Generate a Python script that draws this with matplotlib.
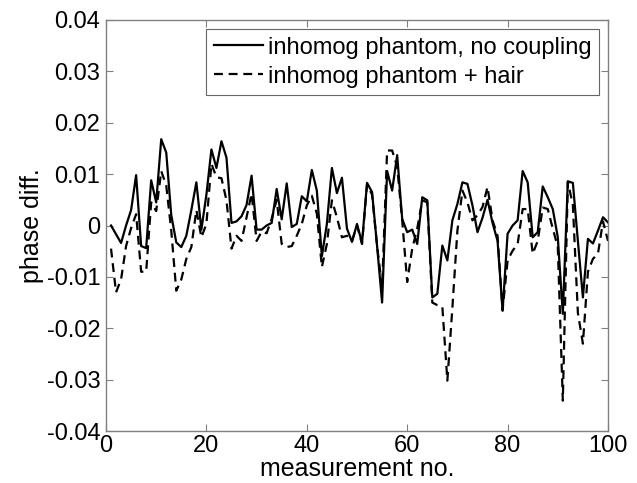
import numpy as np
import matplotlib
matplotlib.use("Agg")
import matplotlib.pyplot as plt
from matplotlib.ticker import FuncFormatter

plt.rcParams["font.family"] = ["Liberation Sans", "DejaVu Sans"]

# measurement index
meas_no = np.arange(1, 101)

# phase difference, inhomogeneous phantom without coupling medium
phase_no_coupling = [
    0.0000, -0.0017, -0.0034, 0.0000, 0.0030, 0.0098, -0.0040, -0.0044, 0.0088, 0.0045,
    0.0168, 0.0142, 0.0020, -0.0033, -0.0042, -0.0020, 0.0030, 0.0084, -0.0008, 0.0060,
    0.0148, 0.0112, 0.0164, 0.0132, 0.0005, 0.0008, 0.0018, 0.0040, 0.0097, -0.0008,
    -0.0008, 0.0000, 0.0005, 0.0071, 0.0012, 0.0082, -0.0003, 0.0003, 0.0057, 0.0047,
    0.0108, 0.0068, -0.0060, 0.0003, 0.0112, 0.0063, 0.0093, -0.0006, -0.0032, 0.0003,
    -0.0034, 0.0083, 0.0065, -0.0040, -0.0150, 0.0106, 0.0068, 0.0137, 0.0013, -0.0013,
    -0.0008, -0.0036, 0.0055, 0.0049, -0.0140, -0.0133, -0.0039, -0.0068, 0.0010, 0.0042,
    0.0084, 0.0081, 0.0039, -0.0013, 0.0015, 0.0050, 0.0005, -0.0030, -0.0166, -0.0016,
    0.0000, 0.0010, 0.0106, 0.0084, -0.0023, -0.0013, 0.0076, 0.0055, 0.0032, -0.0023,
    -0.0172, 0.0086, 0.0083, -0.0030, -0.0140, -0.0026, -0.0035, -0.0010, 0.0016, 0.0006,
]

# phase difference, inhomogeneous phantom with hair
phase_hair = [
    -0.0045, -0.0130, -0.0105, -0.0040, -0.0005, 0.0022, -0.0090, -0.0090, 0.0045, 0.0028,
    0.0106, 0.0078, -0.0010, -0.0127, -0.0105, -0.0065, -0.0042, 0.0030, -0.0023, 0.0003,
    0.0120, 0.0094, 0.0092, 0.0049, -0.0045, -0.0020, -0.0030, 0.0016, 0.0062, -0.0030,
    -0.0012, -0.0015, 0.0013, 0.0050, -0.0036, -0.0042, -0.0040, -0.0020, 0.0003, 0.0039,
    0.0058, 0.0023, -0.0081, -0.0036, 0.0049, 0.0016, -0.0023, -0.0020, -0.0030, 0.0000,
    -0.0036, 0.0080, 0.0060, -0.0040, -0.0120, 0.0146, 0.0146, 0.0115, 0.0010, -0.0110,
    -0.0045, -0.0006, 0.0049, 0.0045, -0.0150, -0.0155, -0.0158, -0.0302, -0.0160, -0.0010,
    0.0068, 0.0045, 0.0010, 0.0020, 0.0036, 0.0075, 0.0010, -0.0020, -0.0165, -0.0068,
    -0.0049, -0.0036, 0.0032, 0.0032, -0.0055, -0.0030, 0.0035, 0.0032, -0.0006, -0.0042,
    -0.0341, 0.0085, 0.0040, -0.0170, -0.0230, -0.0090, -0.0065, -0.0055, 0.0008, -0.0030,
]

x_ticks = [0, 20, 40, 60, 80, 100]
y_ticks = [-0.04, -0.03, -0.02, -0.01, 0, 0.01, 0.02, 0.03, 0.04]


def matlab_fmt(v, pos):
    if abs(v) < 1e-12:
        return "0"
    return "%g" % v


fig = plt.figure(figsize=(6.37, 4.83), dpi=100)
ax = fig.add_axes([106 / 637, 52 / 483, 502 / 637, 411 / 483])

ax.plot(meas_no, phase_no_coupling, color="black", lw=1.6, ls="-",
        label="inhomog phantom, no coupling")
ax.plot(meas_no, phase_hair, color="black", lw=1.6, ls=(0, (4, 2.6)),
        label="inhomog phantom + hair")

ax.set_xlim(0, 100)
ax.set_ylim(-0.04, 0.04)
ax.set_xticks(x_ticks)
ax.set_yticks(y_ticks)
ax.yaxis.set_major_formatter(FuncFormatter(matlab_fmt))

ax.tick_params(direction="in", length=5, width=0.8, color="#808080",
               top=True, right=True, labelsize=17)
ax.tick_params(axis="x", pad=3)
ax.tick_params(axis="y", pad=4)
for sp in ax.spines.values():
    sp.set_color("#808080")
    sp.set_linewidth(1.0)

ax.set_xlabel("measurement no.", fontsize=18, labelpad=0)
ax.set_ylabel("phase diff.", fontsize=18, labelpad=2)

leg = ax.legend(loc="upper right", fontsize=17, frameon=True, fancybox=False,
                edgecolor="#404040", handlelength=2.1, handletextpad=0.2,
                borderpad=0.3, labelspacing=0.3, borderaxespad=0.4)
leg.get_frame().set_linewidth(0.8)

fig.savefig("out.png", dpi=100)
